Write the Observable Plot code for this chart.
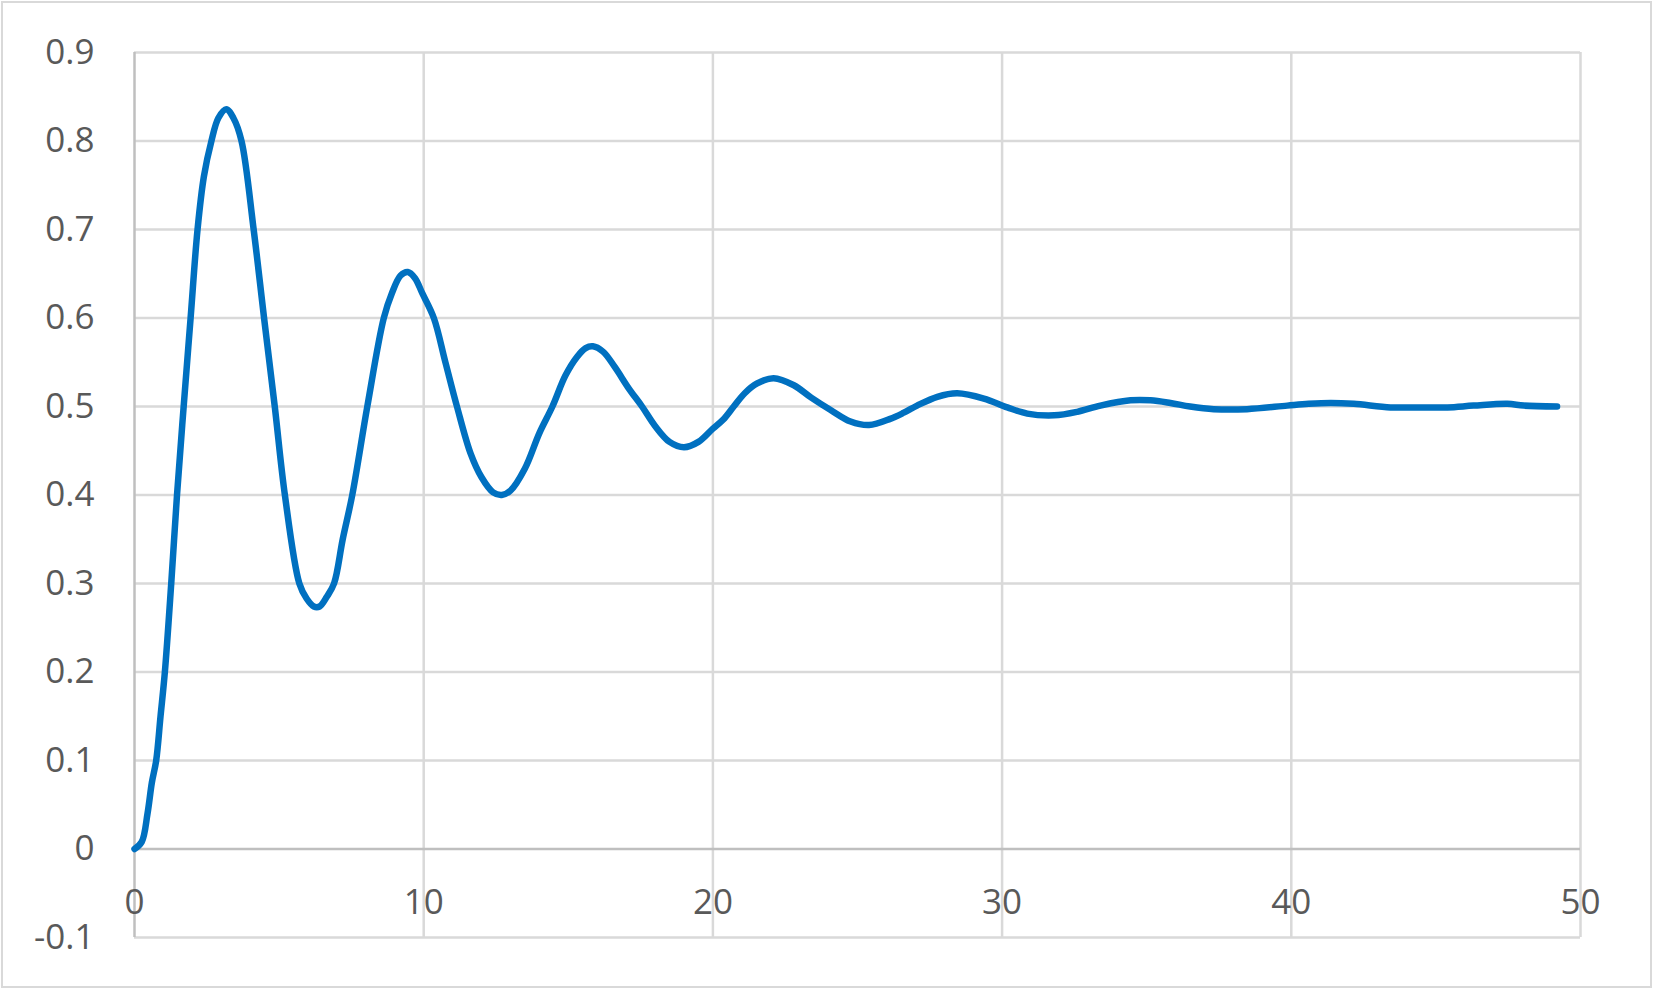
<!DOCTYPE html>
<html>
<head>
<meta charset="utf-8">
<script src="https://cdn.jsdelivr.net/npm/d3@7"></script>
<script src="https://cdn.jsdelivr.net/npm/@observablehq/plot@0.6"></script>
<style>
  html, body { margin: 0; padding: 0; background: #fff; overflow: hidden; }
  #wrap { position: relative; width: 1653px; height: 989px; }
  #frame { position: absolute; left: 1px; top: 1px; width: 1647px; height: 983px; border: 2px solid #d9d9d9; pointer-events: none; }
  svg { display: block; }
</style>
</head>
<body>
<div id="wrap"><div id="chart"></div><div id="frame"></div></div>
<script>
const tValues = [0,0.25,0.45,0.6,0.75,0.9,1.05,1.27,1.47,1.7,1.94,2.18,2.4,2.66,2.9,3.17,3.42,3.7,4.12,4.48,4.85,5.2,5.7,5.95,6.2,6.4,6.65,6.9,7.2,7.53,8.05,8.62,8.9,9.2,9.45,9.7,9.95,10.35,10.75,11.15,11.62,12.0,12.4,12.7,13.0,13.5,14.0,14.45,14.9,15.3,15.6,15.85,16.2,16.6,17.1,17.55,18.0,18.5,19.0,19.5,20.0,20.35,20.72,21.1,21.53,22.1,22.8,23.4,24.07,24.76,25.4,26.13,26.6,27.06,27.76,28.45,29.37,30.18,30.87,31.8,32.6,33.4,34.44,35.13,35.82,36.5,37.32,38.47,39.86,40.6,41.36,42.16,43.43,44.4,45.4,46.3,47.47,48.04,49.19];
const yValues = [0,0.008,0.04,0.075,0.1,0.15,0.2,0.3,0.4,0.5,0.6,0.7,0.76,0.8,0.826,0.836,0.826,0.8,0.7,0.6,0.5,0.4,0.3,0.283,0.274,0.274,0.285,0.3,0.35,0.4,0.5,0.6,0.628,0.648,0.652,0.645,0.628,0.6,0.55,0.5,0.447,0.42,0.403,0.4,0.405,0.43,0.47,0.5,0.535,0.556,0.566,0.568,0.562,0.545,0.52,0.5,0.478,0.46,0.454,0.46,0.475,0.485,0.5,0.515,0.526,0.532,0.524,0.51,0.496,0.483,0.479,0.486,0.493,0.501,0.511,0.515,0.509,0.499,0.492,0.49,0.494,0.501,0.507,0.507,0.504,0.5,0.497,0.497,0.501,0.503,0.504,0.503,0.499,0.499,0.499,0.501,0.503,0.501,0.5];
const xTicks = [0,10,20,30,40,50];
const yTicks = [-0.1,0,0.1,0.2,0.3,0.4,0.5,0.6,0.7,0.8,0.9];

const data = tValues.map((t, i) => ({t, v: yValues[i]}));
const font = "'Open Sans', 'Segoe UI', 'Noto Sans', sans-serif";

const chart = Plot.plot({
  width: 1653,
  height: 989,
  marginLeft: 134,
  marginRight: 73,
  marginTop: 52,
  marginBottom: 52,
  style: {fontFamily: font, background: "transparent"},
  x: {domain: [0, 50], axis: null},
  y: {domain: [-0.1, 0.9], axis: null},
  marks: [
    Plot.ruleY(yTicks.filter(d => d !== 0), {y: d => d, stroke: "#d9d9d9", strokeWidth: 2.5}),
    Plot.ruleX(xTicks.filter(d => d !== 0), {x: d => d, stroke: "#d9d9d9", strokeWidth: 2.5}),
    Plot.ruleY([0], {y: d => d, stroke: "#bfbfbf", strokeWidth: 2.5}),
    Plot.ruleX([0], {x: d => d, stroke: "#bfbfbf", strokeWidth: 2.5}),
    Plot.text(yTicks, {x: 0, y: d => d, text: d => String(d), textAnchor: "end", dx: -40, fontSize: 35, fill: "#595959", lineAnchor: "middle"}),
    Plot.text(xTicks, {x: d => d, y: 0, text: d => String(d), textAnchor: "middle", dy: 54, fontSize: 35, fill: "#595959", lineAnchor: "middle"}),
    Plot.line(data, {x: "t", y: "v", stroke: "#0070c0", strokeWidth: 6.5, curve: "catmull-rom", strokeLinecap: "round", strokeLinejoin: "round"})
  ]
});
document.getElementById("chart").appendChild(chart);
</script>
</body>
</html>
